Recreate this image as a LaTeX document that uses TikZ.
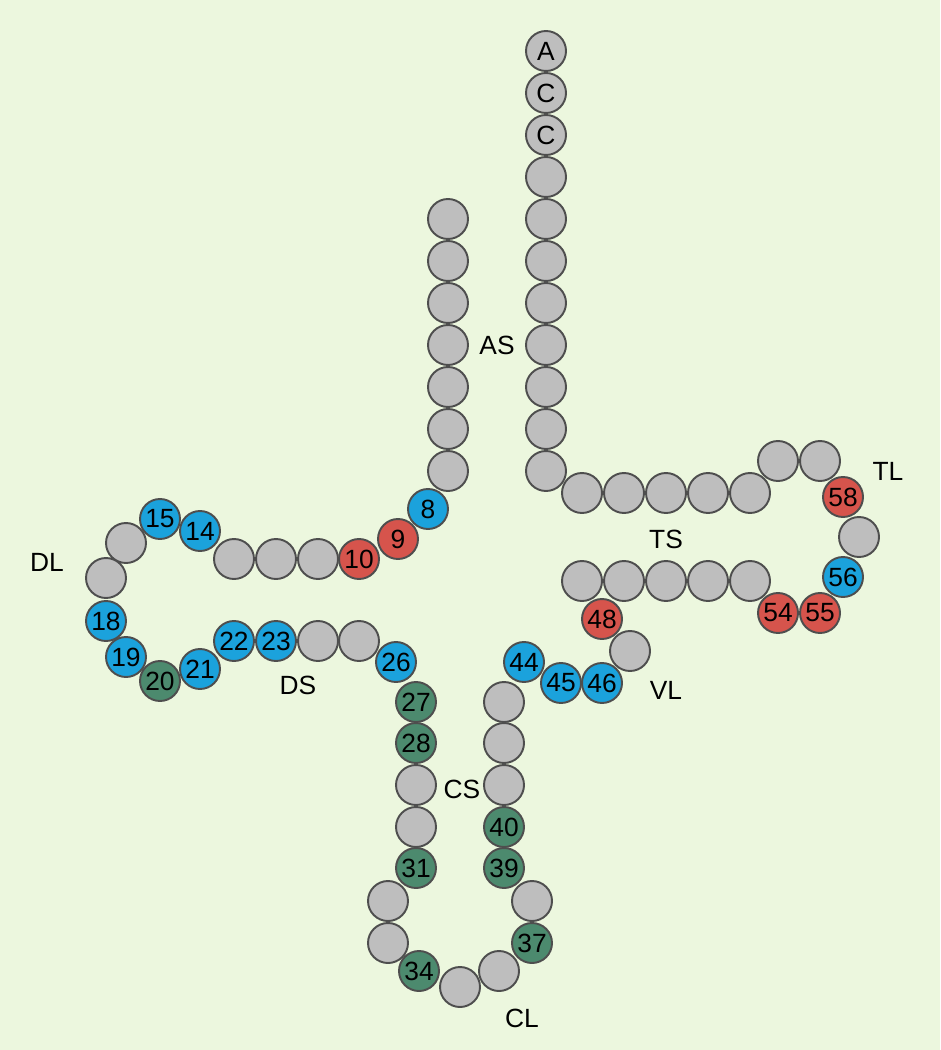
\documentclass[tikz,border=0pt]{standalone}
\usepackage{fontspec}
\setmainfont{Liberation Sans}

\definecolor{bgcol}{RGB}{236,247,222}
\definecolor{ntline}{RGB}{78,78,78}
\definecolor{ntgray}{RGB}{190,190,190}
\definecolor{ntblue}{RGB}{27,162,220}
\definecolor{ntred}{RGB}{214,84,76}
\definecolor{ntgreen}{RGB}{76,138,110}

\begin{document}
\begin{tikzpicture}[
  x=0.02cm, y=-0.02cm,
  nt/.style={circle, draw=ntline, line width=1.1pt, minimum size=0.8cm,
             inner sep=0pt, font=\fontsize{15}{15}\selectfont},
  lbl/.style={font=\fontsize{15}{15}\selectfont, inner sep=0pt}
]

  \fill[bgcol] (0,0) rectangle (940,1050);
  \useasboundingbox (0,0) rectangle (940,1050);

  % ========== Acceptor stem: 5' side ==========
  \foreach \i/\y in {1/219, 2/261, 3/303, 4/345, 5/387, 6/429, 7/471}
    \node[nt, fill=ntgray] (n\i) at (448,\y) {};

  % ========== 8-9 and D stem / D loop ==========
  \foreach \i/\x/\y/\c/\t in {
      8/428/509/ntblue/8, 9/398/539/ntred/9, 10/359/559/ntred/10,
      11/318/559/ntgray/{}, 12/276/559/ntgray/{}, 13/234/559/ntgray/{},
      14/200/531/ntblue/14, 15/160/519/ntblue/15, 16/126/543/ntgray/{},
      17/106/578/ntgray/{}, 18/106/621/ntblue/18, 19/126/657/ntblue/19,
      20/160/681/ntgreen/20, 21/200/669/ntblue/21, 22/234/641/ntblue/22,
      23/276/641/ntblue/23, 24/318/641/ntgray/{}, 25/359/641/ntgray/{},
      26/396/662/ntblue/26}
    \node[nt, fill=\c] (n\i) at (\x,\y) {\t};

  % ========== Anticodon stem / loop ==========
  \foreach \i/\x/\y/\c/\t in {
      27/416/702/ntgreen/27, 28/416/743/ntgreen/28, 29/416/785/ntgray/{},
      30/416/827/ntgray/{}, 31/416/868/ntgreen/31, 32/388/901/ntgray/{},
      33/388/943/ntgray/{}, 34/419/971/ntgreen/34, 35/460/987/ntgray/{},
      36/499/971/ntgray/{}, 37/532/943/ntgreen/37, 38/532/901/ntgray/{},
      39/504/868/ntgreen/39, 40/504/827/ntgreen/40, 41/504/785/ntgray/{},
      42/504/743/ntgray/{}, 43/504/702/ntgray/{}}
    \node[nt, fill=\c] (n\i) at (\x,\y) {\t};

  % ========== Variable loop ==========
  \foreach \i/\x/\y/\c/\t in {
      44/524/662/ntblue/44, 45/561/683/ntblue/45, 46/602/683/ntblue/46,
      47/630/651/ntgray/{}, 48/602/619/ntred/48}
    \node[nt, fill=\c] (n\i) at (\x,\y) {\t};

  % ========== T stem / T loop ==========
  \foreach \i/\x/\y/\c/\t in {
      49/582/581/ntgray/{}, 50/624/581/ntgray/{}, 51/666/581/ntgray/{},
      52/708/581/ntgray/{}, 53/750/581/ntgray/{}, 54/778/613/ntred/54,
      55/820/613/ntred/55, 56/843/577/ntblue/56, 57/859/537/ntgray/{},
      58/843/497/ntred/58, 59/820/461/ntgray/{}, 60/778/461/ntgray/{},
      61/750/493/ntgray/{}, 62/708/493/ntgray/{}, 63/666/493/ntgray/{},
      64/624/493/ntgray/{}, 65/582/493/ntgray/{}}
    \node[nt, fill=\c] (n\i) at (\x,\y) {\t};

  % ========== Acceptor stem: 3' side + CCA ==========
  \foreach \i/\y in {66/471, 67/429, 68/387, 69/345, 70/303, 71/261,
                     72/219, 73/177}
    \node[nt, fill=ntgray] (n\i) at (546,\y) {};
  \node[nt, fill=ntgray] (n74) at (546,135) {C};
  \node[nt, fill=ntgray] (n75) at (546,93) {C};
  \node[nt, fill=ntgray] (n76) at (546,51) {A};

  % ========== Region labels ==========
  \node[lbl] (as) at (497,345) {AS};
  \node[lbl] (dl) at (47,562) {DL};
  \node[lbl] (ds) at (298,685) {DS};
  \node[lbl] (cs) at (462,789) {CS};
  \node[lbl] (cl) at (522,1018) {CL};
  \node[lbl] (vl) at (666,690) {VL};
  \node[lbl] (ts) at (666,539) {TS};
  \node[lbl] (tl) at (888,471) {TL};

\end{tikzpicture}
\end{document}
